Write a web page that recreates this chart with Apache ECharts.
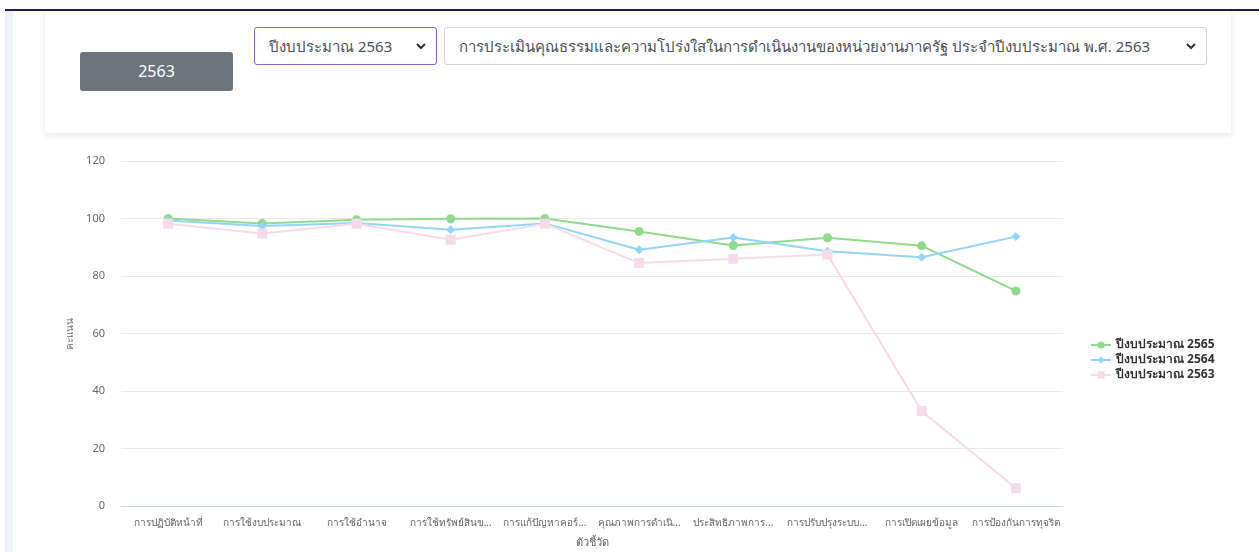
<!DOCTYPE html>
<html>
<head>
<meta charset="utf-8">
<title>ITA</title>
<script src="https://cdn.jsdelivr.net/npm/echarts@6/dist/echarts.min.js"></script>
<style>
    body { margin: 0; width: 1259px; height: 552px; overflow: hidden; background: #fff; font-family: "Noto Sans", sans-serif; position: relative; }
    .topline { position: absolute; left: 5px; right: 0; top: 9px; height: 2px; background: #1b1850; }
    .side { position: absolute; left: 5px; top: 11px; width: 8px; bottom: 0; background: #eef1f6; }
    .card { position: absolute; left: 45px; top: 11px; width: 1186px; height: 122px; background: #fff; box-shadow: 0 2px 6px rgba(0,0,0,0.10); }
    .btn { position: absolute; left: 80px; top: 52px; width: 153px; height: 39px; background: #6c757d; border-radius: 3px; color: #fff; font-size: 16px; line-height: 39px; text-align: center; }
    .sel { position: absolute; top: 27px; height: 38px; box-sizing: border-box; border: 1px solid #ced4da; border-radius: 3px; font-size: 15px; color: #495057; line-height: 36px; padding-left: 14px; background: #fff; white-space: nowrap; overflow: hidden; }
    .sel1 { left: 254px; width: 183px; border-color: #8a63c7; }
    .sel2 { left: 444px; width: 763px; }
    .sel svg { position: absolute; right: 10px; top: 14px; }
    #main { position: absolute; left: 0; top: 140px; width: 1259px; height: 412px; }
</style>
</head>
<body>
<div class="topline"></div>
<div class="side"></div>
<div class="card"></div>
<div class="btn">2563</div>
<div class="sel sel1">ปีงบประมาณ 2563<svg width="10" height="8"><path d="M1 2 L5 6 L9 2" fill="none" stroke="#333" stroke-width="2"/></svg></div>
<div class="sel sel2">การประเมินคุณธรรมและความโปร่งใสในการดำเนินงานของหน่วยงานภาครัฐ ประจำปีงบประมาณ พ.ศ. 2563<svg width="10" height="8"><path d="M1 2 L5 6 L9 2" fill="none" stroke="#333" stroke-width="2"/></svg></div>
<div id="main"></div>
<script type="text/javascript">
    // ตัวชี้วัด
    var categories = ['การปฏิบัติหน้าที่', 'การใช้งบประมาณ', 'การใช้อำนาจ', 'การใช้ทรัพย์สินข...', 'การแก้ปัญหาคอร์...',
        'คุณภาพการดำเนิ...', 'ประสิทธิภาพการ...', 'การปรับปรุงระบบ...', 'การเปิดเผยข้อมูล', 'การป้องกันการทุจริต'];
    var score2565 = [100, 98.3, 99.6, 99.9, 100, 95.5, 90.6, 93.3, 90.5, 74.8];
    var score2564 = [99.3, 97.4, 98.4, 96.1, 98.3, 89.1, 93.4, 88.6, 86.5, 93.7];
    var score2563 = [98.2, 94.8, 98.2, 92.6, 98.2, 84.5, 86, 87.5, 33, 6.2];
    var yTicks = [0, 20, 40, 60, 80, 100, 120];

    var myChart = echarts.init(document.getElementById('main'));
    myChart.setOption({
        animation: false,
        textStyle: { fontFamily: 'Noto Sans' },
        grid: { left: 121, right: 196, top: 21, bottom: 46, outerBoundsMode: 'none' },
        legend: {
            orient: 'vertical',
            left: 1085,
            top: 194,
            itemWidth: 20,
            itemHeight: 9,
            itemGap: 3,
            textStyle: { color: '#333', fontSize: 12, fontWeight: 'bold' },
            data: ['ปีงบประมาณ 2565', 'ปีงบประมาณ 2564', 'ปีงบประมาณ 2563']
        },
        xAxis: {
            type: 'category',
            data: categories,
            name: 'ตัวชี้วัด',
            nameLocation: 'middle',
            nameGap: 31,
            nameTextStyle: { color: '#666', fontSize: 11 },
            axisLine: { lineStyle: { color: '#c3d0ee' } },
            axisTick: { show: false },
            axisLabel: { color: '#666', fontSize: 10, margin: 12, interval: 0 }
        },
        yAxis: {
            type: 'value',
            min: yTicks[0],
            max: yTicks[yTicks.length - 1],
            interval: 20,
            name: 'คะแนน',
            nameLocation: 'middle',
            nameGap: 46,
            nameTextStyle: { color: '#666', fontSize: 10 },
            axisLine: { show: false },
            axisTick: { show: false },
            axisLabel: { color: '#666', fontSize: 11, margin: 16 },
            splitLine: { lineStyle: { color: '#e8e8e8' } }
        },
        series: [{
            name: 'ปีงบประมาณ 2565',
            type: 'line',
            data: score2565,
            symbol: 'circle',
            symbolSize: 9,
            lineStyle: { width: 2, color: '#91d98c' },
            itemStyle: { color: '#91d98c' }
        }, {
            name: 'ปีงบประมาณ 2564',
            type: 'line',
            data: score2564,
            symbol: 'diamond',
            symbolSize: 9,
            lineStyle: { width: 2, color: '#92d5f4' },
            itemStyle: { color: '#92d5f4' }
        }, {
            name: 'ปีงบประมาณ 2563',
            type: 'line',
            data: score2563,
            symbol: 'rect',
            symbolSize: 10,
            lineStyle: { width: 2, color: '#f5dbea' },
            itemStyle: { color: '#f5dbea' }
        }]
    });
</script>
</body>
</html>
